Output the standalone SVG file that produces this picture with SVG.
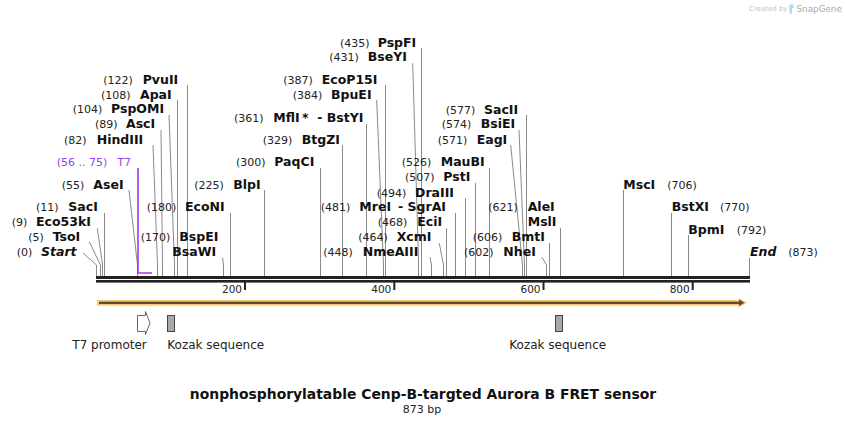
<svg xmlns="http://www.w3.org/2000/svg" width="846" height="426" viewBox="0 0 846 426">
<style>
.n{font-family:"DejaVu Sans",Verdana,sans-serif;font-size:11px;fill:#222}
.e{font-family:"DejaVu Sans",Verdana,sans-serif;font-size:12.5px;font-weight:bold;fill:#111}
.i{font-style:italic}
.p{fill:#9b3cf0}
.f{font-family:"DejaVu Sans",Verdana,sans-serif;font-size:12px;fill:#222}
.tk{font-family:"DejaVu Sans",Verdana,sans-serif;font-size:10.5px;fill:#222;text-anchor:end}
.ln{stroke:#8a8a8a;stroke-width:1;fill:none}
</style>
<rect width="846" height="426" fill="#fff"/>
<g id="watermark">
<text x="749" y="11" font-family="DejaVu Sans,sans-serif" font-size="7px" fill="#c4c4c4">Created by</text>
<path d="M789.5 4.5h4v3.5h-1.5v5.5h-2.5z" fill="#a9d8f2"/>
<text x="796.5" y="11.5" font-family="DejaVu Sans,sans-serif" font-size="8.8px" fill="#a8a8a8">SnapGene</text>
</g>
<g id="backbone">
<rect x="96" y="276" width="654" height="3" fill="#222"/>
<rect x="96" y="280" width="654" height="2.6" fill="#222"/>
<rect x="244" y="282" width="2" height="8" fill="#222"/>
<rect x="393.3" y="282" width="2" height="8" fill="#222"/>
<rect x="542.5" y="282" width="2" height="8" fill="#222"/>
<rect x="691.7" y="282" width="2" height="8" fill="#222"/>
<text class="tk" x="242" y="293">200</text>
<text class="tk" x="391.3" y="293">400</text>
<text class="tk" x="540.5" y="293">600</text>
<text class="tk" x="689.7" y="293">800</text>
</g>
<g id="connectors">
<polyline class="ln" points="83,253 96.5,265 96.5,276"/>
<polyline class="ln" points="89.3,241.7 100.5,265 100.5,276"/>
<polyline class="ln" points="97.3,228.3 102.5,264 102.5,276"/>
<polyline class="ln" points="104.5,213 104.5,276"/>
<polyline class="ln" points="129,190 137.5,265 137.5,276"/>
<polyline class="ln" points="153,145 157.5,265 157.5,276"/>
<polyline class="ln" points="161,130 162.5,265 162.5,276"/>
<polyline class="ln" points="169,115 174.5,265 174.5,276"/>
<polyline class="ln" points="177.5,100 177.5,276"/>
<polyline class="ln" points="187.5,85 187.5,276"/>
<polyline class="ln" points="222.5,257.5 223.5,265 223.5,276"/>
<polyline class="ln" points="230.5,213 230.5,276"/>
<polyline class="ln" points="264.5,190 264.5,276"/>
<polyline class="ln" points="320.5,168 320.5,276"/>
<polyline class="ln" points="342.5,145 342.5,276"/>
<polyline class="ln" points="366.5,124 366.5,276"/>
<polyline class="ln" points="376.7,100 383.5,265 383.5,276"/>
<polyline class="ln" points="385.5,85 385.5,276"/>
<polyline class="ln" points="412.7,63.3 418.5,260 418.5,276"/>
<polyline class="ln" points="421.5,48 421.5,276"/>
<polyline class="ln" points="430,257 431.5,265 431.5,276"/>
<polyline class="ln" points="439.3,243.3 443.5,265 443.5,276"/>
<polyline class="ln" points="446.5,228.3 446.5,276"/>
<polyline class="ln" points="455.5,213 455.5,276"/>
<polyline class="ln" points="465.5,198 465.5,276"/>
<polyline class="ln" points="475.5,183 475.5,276"/>
<polyline class="ln" points="489.5,168 489.5,276"/>
<polyline class="ln" points="510.7,145 522.5,265 522.5,276"/>
<polyline class="ln" points="519,130 524.5,265 524.5,276"/>
<polyline class="ln" points="526.5,115 526.5,276"/>
<polyline class="ln" points="541.7,257 546.5,265 546.5,276"/>
<polyline class="ln" points="549.5,243 549.5,276"/>
<polyline class="ln" points="560.5,228 560.5,276"/>
<polyline class="ln" points="623.5,190 623.5,276"/>
<polyline class="ln" points="671.5,213 671.5,276"/>
<polyline class="ln" points="688.5,235 688.5,276"/>
<polyline class="ln" points="749.5,258 749.5,276"/>
</g>
<g id="T7-site">
<text class="n p" x="56.7" y="166">(56 .. 75)</text>
<text class="n p" x="117.3" y="166">T7</text>
<polyline points="138,168 138,273 152,273" fill="none" stroke="#9b3cf0" stroke-width="1.6"/>
</g>
<g id="Start"><text class="n" x="16.7" y="256">(0)</text><text class="e i" x="41" y="256">Start</text></g>
<g id="TsoI"><text class="n" x="28.3" y="241">(5)</text><text class="e" x="52.7" y="241">TsoI</text></g>
<g id="Eco53kI"><text class="n" x="11.7" y="226">(9)</text><text class="e" x="36" y="226">Eco53kI</text></g>
<g id="SacI"><text class="n" x="36" y="211">(11)</text><text class="e" x="68.3" y="211">SacI</text></g>
<g id="AseI"><text class="n" x="61.7" y="188.5">(55)</text><text class="e" x="93.3" y="188.5">AseI</text></g>
<g id="HindIII"><text class="n" x="64" y="143.5">(82)</text><text class="e" x="96.7" y="143.5">HindIII</text></g>
<g id="AscI"><text class="n" x="95" y="128">(89)</text><text class="e" x="126" y="128">AscI</text></g>
<g id="PspOMI"><text class="n" x="72.7" y="113">(104)</text><text class="e" x="111" y="113">PspOMI</text></g>
<g id="ApaI"><text class="n" x="101" y="98.5">(108)</text><text class="e" x="140" y="98.5">ApaI</text></g>
<g id="PvuII"><text class="n" x="103.3" y="83.5">(122)</text><text class="e" x="142.7" y="83.5">PvuII</text></g>
<g id="BspEI"><text class="n" x="140.7" y="241">(170)</text><text class="e" x="179.3" y="241">BspEI</text></g>
<g id="BsaWI"><text class="e" x="172.3" y="256">BsaWI</text></g>
<g id="EcoNI"><text class="n" x="146.7" y="211">(180)</text><text class="e" x="185" y="211">EcoNI</text></g>
<g id="BlpI"><text class="n" x="194.3" y="188.5">(225)</text><text class="e" x="233.3" y="188.5">BlpI</text></g>
<g id="PaqCI"><text class="n" x="236" y="166">(300)</text><text class="e" x="274.3" y="166">PaqCI</text></g>
<g id="BtgZI"><text class="n" x="262.7" y="143.5">(329)</text><text class="e" x="301.7" y="143.5">BtgZI</text></g>
<g id="MflI-BstYI"><text class="n" x="234" y="121.5">(361)</text><text class="e" y="121.5"><tspan x="273.3">MflI</tspan><tspan x="302">*</tspan><tspan x="317.3">- BstYI</tspan></text></g>
<g id="BpuEI"><text class="n" x="292.7" y="98.5">(384)</text><text class="e" x="331" y="98.5">BpuEI</text></g>
<g id="EcoP15I"><text class="n" x="283.3" y="83.5">(387)</text><text class="e" x="321.7" y="83.5">EcoP15I</text></g>
<g id="BseYI"><text class="n" x="329.3" y="61">(431)</text><text class="e" x="367.7" y="61">BseYI</text></g>
<g id="PspFI"><text class="n" x="340" y="47">(435)</text><text class="e" x="377.7" y="47">PspFI</text></g>
<g id="NmeAIII"><text class="n" x="323.3" y="256">(448)</text><text class="e" x="362.7" y="256">NmeAIII</text></g>
<g id="XcmI"><text class="n" x="358.3" y="241">(464)</text><text class="e" x="396.7" y="241">XcmI</text></g>
<g id="EciI"><text class="n" x="377.7" y="226">(468)</text><text class="e" x="417.3" y="226">EciI</text></g>
<g id="MreI-SgrAI"><text class="n" x="320.7" y="211">(481)</text><text class="e" y="211"><tspan x="359.3">MreI</tspan><tspan x="398">- SgrAI</tspan></text></g>
<g id="DraIII"><text class="n" x="376.7" y="196.5">(494)</text><text class="e" x="415" y="196.5">DraIII</text></g>
<g id="PstI"><text class="n" x="405" y="181">(507)</text><text class="e" x="443.3" y="181">PstI</text></g>
<g id="MauBI"><text class="n" x="401.7" y="166">(526)</text><text class="e" x="440.7" y="166">MauBI</text></g>
<g id="EagI"><text class="n" x="437.7" y="143.5">(571)</text><text class="e" x="476.7" y="143.5">EagI</text></g>
<g id="BsiEI"><text class="n" x="441.7" y="128">(574)</text><text class="e" x="480.7" y="128">BsiEI</text></g>
<g id="SacII"><text class="n" x="445.7" y="113.5">(577)</text><text class="e" x="484" y="113.5">SacII</text></g>
<g id="NheI"><text class="n" x="464" y="256">(602)</text><text class="e" x="503.3" y="256">NheI</text></g>
<g id="BmtI"><text class="n" x="472.7" y="241">(606)</text><text class="e" x="511.7" y="241">BmtI</text></g>
<g id="AleI"><text class="n" x="488.3" y="211">(621)</text><text class="e" x="527.7" y="211">AleI</text></g>
<g id="MslI"><text class="e" x="527.7" y="226">MslI</text></g>
<g id="MscI"><text class="e" x="623.3" y="188.5">MscI</text><text class="n" x="667.3" y="188.5">(706)</text></g>
<g id="BstXI"><text class="e" x="671.7" y="211">BstXI</text><text class="n" x="720" y="211">(770)</text></g>
<g id="BpmI"><text class="e" x="688.3" y="233.5">BpmI</text><text class="n" x="736.7" y="233.5">(792)</text></g>
<g id="End"><text class="e i" x="750" y="256">End</text><text class="n" x="788.3" y="256">(873)</text></g>
<g id="feature-arrow">
<rect x="97" y="300" width="642" height="5.7" fill="#f9c873"/>
<polygon points="738.5,298 747,302.8 738.5,307.6" fill="#f9c873"/>
<rect x="99" y="301.7" width="641" height="2.3" fill="#5e4b2e"/>
<polygon points="739,299.6 744.5,302.8 739,306" fill="#5e4b2e"/>
</g>
<g id="T7-promoter">
<polygon points="137.5,315.5 145.5,315.5 145.5,311.5 150,323 145.5,334.5 145.5,331.5 137.5,331.5" fill="#fff" stroke="#666" stroke-width="1"/>
<text class="f" x="72.3" y="349">T7 promoter</text>
</g>
<g id="Kozak-1">
<rect x="167.5" y="315.5" width="7" height="16" fill="#a5a9ae" stroke="#444" stroke-width="1"/>
<text class="f" x="167.3" y="349">Kozak sequence</text>
</g>
<g id="Kozak-2">
<rect x="555.5" y="315.5" width="7" height="16" fill="#a5a9ae" stroke="#444" stroke-width="1"/>
<text class="f" x="509.3" y="349">Kozak sequence</text>
</g>
<g id="title">
<text x="423" y="398.5" text-anchor="middle" font-family="DejaVu Sans,Verdana,sans-serif" font-size="13.9px" font-weight="bold" fill="#111">nonphosphorylatable Cenp-B-targted Aurora B FRET sensor</text>
<text x="422" y="413" text-anchor="middle" font-family="DejaVu Sans,Verdana,sans-serif" font-size="11px" fill="#222">873 bp</text>
</g>
</svg>
